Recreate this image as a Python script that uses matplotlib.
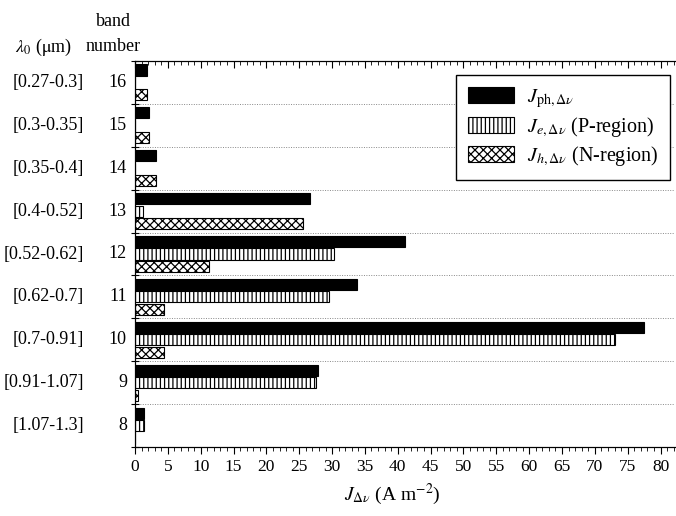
import matplotlib
matplotlib.use("Agg")
import matplotlib.pyplot as plt
from matplotlib.ticker import MultipleLocator
import numpy as np

# band data
bands = [16, 15, 14, 13, 12, 11, 10, 9, 8]
ranges = ["[0.27-0.3]", "[0.3-0.35]", "[0.35-0.4]", "[0.4-0.52]", "[0.52-0.62]",
          "[0.62-0.7]", "[0.7-0.91]", "[0.91-1.07]", "[1.07-1.3]"]
j_ph = [1.9, 2.2, 3.2, 26.7, 41.1, 33.8, 77.5, 27.9, 1.3]
j_e = [0.0, 0.0, 0.0, 1.2, 30.3, 29.5, 73.0, 27.5, 1.3]
j_h = [1.9, 2.2, 3.2, 25.5, 11.3, 4.4, 4.4, 0.4, 0.0]

plt.rcParams['font.family'] = ['Liberation Serif', 'DejaVu Serif']
plt.rcParams['mathtext.fontset'] = 'stix'
plt.rcParams['hatch.linewidth'] = 0.9

fig = plt.figure(figsize=(6.76, 5.16), dpi=100)
ax = fig.add_axes([135/676, 1-447/516, 540/676, 386/516])

y = np.array(bands, dtype=float)
h = 0.26
ax.barh(y + 0.29, j_ph, height=h, color='black', edgecolor='black', lw=0.8,
        label=r'$J_{\mathrm{ph},\Delta\nu}$')
ax.barh(y, j_e, height=h, color='white', edgecolor='black', lw=0.8, hatch='||||',
        label=r'$J_{e,\Delta\nu}$ (P-region)')
ax.barh(y - 0.29, j_h, height=h, color='white', edgecolor='black', lw=0.8, hatch='xxxx',
        label=r'$J_{h,\Delta\nu}$ (N-region)')

ax.set_xlim(0, 82.2)
ax.set_ylim(7.5, 16.5)

# band separators
seps = np.arange(8.5, 16.5, 1.0)
for s in seps:
    ax.axhline(s, color='#888888', ls=(0, (1, 1.5)), lw=0.7, zorder=0)
ax.set_yticks(list(seps) + [7.5, 16.5])
ax.set_yticklabels([])
ax.tick_params(axis='y', direction='inout', length=6, width=0.8)

ax.xaxis.set_major_locator(MultipleLocator(5))
ax.xaxis.set_minor_locator(MultipleLocator(1))
ax.tick_params(axis='x', which='major', direction='out', length=5, width=0.8, labelsize=12.5)
ax.tick_params(axis='x', which='minor', direction='out', length=3, width=0.6)
ax.spines['right'].set_visible(False)

top = ax.twiny()
top.set_xlim(ax.get_xlim())
top.xaxis.set_major_locator(MultipleLocator(5))
top.xaxis.set_minor_locator(MultipleLocator(1))
top.tick_params(axis='x', which='major', direction='in', length=5, width=0.8, labeltop=False)
top.tick_params(axis='x', which='minor', direction='in', length=3, width=0.6)
top.spines['right'].set_visible(False)

trans = ax.get_yaxis_transform()
for b, r in zip(bands, ranges):
    ax.text(-0.015, b, str(b), transform=trans, ha='right', va='center', fontsize=13)
    ax.text(-0.094, b, r, transform=trans, ha='right', va='center', fontsize=13)

fig.text(113/676, 1-21/516, 'band', ha='center', va='center', fontsize=13)
fig.text(113/676, 1-47/516, 'number', ha='center', va='center', fontsize=13)
fig.text(43/676, 1-47/516, r'$\lambda_0$ ($\mathrm{\mu}$m)', ha='center', va='center', fontsize=13)

ax.set_xlabel(r'$J_{\Delta\nu}$ (A m$^{-2}$)', fontsize=14)
ax.xaxis.set_label_coords(0.477, -0.09)

leg = ax.legend(loc='upper right', bbox_to_anchor=(0.991, 0.964), fontsize=14.5,
                fancybox=False, edgecolor='black', framealpha=1,
                handlelength=2.3, handleheight=0.8, labelspacing=0.25,
                borderpad=0.6, borderaxespad=0, handletextpad=0.6)
leg.get_frame().set_linewidth(1.0)

fig.savefig('out.png', dpi=100)
